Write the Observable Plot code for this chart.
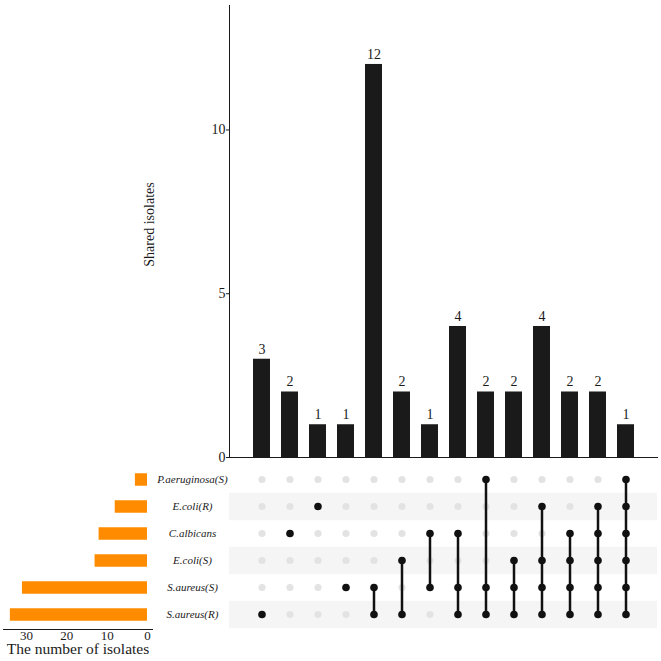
<!DOCTYPE html>
<html>
<head>
<meta charset="utf-8">
<script src="https://cdn.jsdelivr.net/npm/d3@7"></script>
<script src="https://cdn.jsdelivr.net/npm/@observablehq/plot@0.6"></script>
<style>
  html, body { margin: 0; padding: 0; background: #ffffff; }
  #chart { position: relative; width: 661px; height: 661px; overflow: hidden; }
  #chart svg { position: absolute; left: 0; top: 0; }
  #chart svg text { font-family: 'Liberation Serif', 'Times New Roman', serif !important; }
</style>
</head>
<body>
<div id="chart"></div>
<script>
// ---- data ----
const sets = ["P.aeruginosa(S)", "E.coli(R)", "C.albicans", "E.coli(S)", "S.aureus(S)", "S.aureus(R)"];
const setSizes = [3, 8, 12, 13, 31, 34];
const shadedSets = ["E.coli(R)", "E.coli(S)", "S.aureus(R)"];
const intersectionIds = [1, 2, 3, 4, 5, 6, 7, 8, 9, 10, 11, 12, 13, 14];
const intersectionCounts = [3, 2, 1, 1, 12, 2, 1, 4, 2, 2, 4, 2, 2, 1];
const intersectionMembers = [
  ["S.aureus(R)"],
  ["C.albicans"],
  ["E.coli(R)"],
  ["S.aureus(S)"],
  ["S.aureus(S)", "S.aureus(R)"],
  ["E.coli(S)", "S.aureus(R)"],
  ["C.albicans", "S.aureus(S)"],
  ["C.albicans", "S.aureus(S)", "S.aureus(R)"],
  ["P.aeruginosa(S)", "S.aureus(S)", "S.aureus(R)"],
  ["E.coli(S)", "S.aureus(S)", "S.aureus(R)"],
  ["E.coli(R)", "E.coli(S)", "S.aureus(S)", "S.aureus(R)"],
  ["C.albicans", "E.coli(S)", "S.aureus(S)", "S.aureus(R)"],
  ["E.coli(R)", "C.albicans", "E.coli(S)", "S.aureus(S)", "S.aureus(R)"],
  ["P.aeruginosa(S)", "E.coli(R)", "C.albicans", "E.coli(S)", "S.aureus(S)", "S.aureus(R)"]
];
const countTicks = [0, 5, 10];
const sizeTicks = [0, 10, 20, 30];
const countLabel = "Shared isolates";
const sizeLabel = "The number of isolates";

// ---- derived tables ----
const columns = intersectionIds.map((id, i) => ({id, count: intersectionCounts[i]}));
const allCells = intersectionIds.flatMap(id => sets.map(s => ({id, set: s})));
const memberCells = intersectionIds.flatMap((id, i) => intersectionMembers[i].map(s => ({id, set: s})));
const links = intersectionIds.map((id, i) => {
  const idx = intersectionMembers[i].map(s => sets.indexOf(s));
  return {id, top: sets[d3.min(idx)], bottom: sets[d3.max(idx)]};
}).filter((d, i) => intersectionMembers[i].length > 1);
const setRows = sets.map((s, i) => ({set: s, size: setSizes[i]}));

const FONT = "Liberation Serif";
const INK = "#1a1a1a";
const W = 661, H = 661;
const xBand = {type: "band", domain: intersectionIds, paddingInner: 0.4, paddingOuter: 0.7, axis: null};
const yRows = {type: "point", domain: sets, range: [477.7, 615.7], padding: 0, axis: null};
const baseStyle = {background: "transparent", fontFamily: FONT, fontSize: "14px", color: INK, overflow: "visible"};

// ---- top: intersection sizes ----
const topPlot = Plot.plot({
  width: W, height: H,
  marginLeft: 229, marginRight: 4, marginTop: 5, marginBottom: 204,
  style: baseStyle,
  x: xBand,
  y: {domain: [0, 13.8], axis: null},
  marks: [
    Plot.barY(columns, {x: "id", y: "count", fill: "#1a1a1a"}),
    Plot.frame({anchor: "left", stroke: INK}),
    Plot.frame({anchor: "bottom", stroke: INK}),
    Plot.axisY(countTicks, {anchor: "left", tickSize: 3, tickPadding: 1, fontSize: 14, fontFamily: FONT, label: null, stroke: INK}),
    Plot.text(columns, {x: "id", y: "count", text: d => String(d.count), dy: -10, fontSize: 14, fontFamily: FONT, fill: INK}),
    Plot.text([countLabel], {frameAnchor: "left", textAnchor: "middle", dx: -80, dy: -7, rotate: -90, fontSize: 14, fontFamily: FONT, fill: INK})
  ]
});

// ---- matrix ----
const matrixPlot = Plot.plot({
  width: W, height: H,
  marginLeft: 229, marginRight: 4, marginTop: 464, marginBottom: 31,
  style: baseStyle,
  x: xBand,
  y: yRows,
  marks: [
    Plot.ruleY(shadedSets, {y: d => d, stroke: "#f5f5f5", strokeWidth: 27.6}),
    Plot.dot(allCells, {x: "id", y: "set", r: 3.6, fill: "#e3e3e3"}),
    Plot.ruleX(links, {x: "id", y1: "top", y2: "bottom", stroke: "#111", strokeWidth: 2.5}),
    Plot.dot(memberCells, {x: "id", y: "set", r: 3.8, fill: "#111"})
  ]
});

// ---- left: set sizes ----
const leftPlot = Plot.plot({
  width: W, height: H,
  marginLeft: 3, marginRight: 509, marginTop: 464, marginBottom: 32,
  style: baseStyle,
  x: {domain: [35.7, -1.24], axis: null},
  y: yRows,
  marks: [
    Plot.ruleY(setRows, {y: "set", x1: 0, x2: "size", stroke: "#ff8c00", strokeWidth: 12.5}),
    Plot.frame({anchor: "bottom", stroke: INK}),
    Plot.axisX(sizeTicks, {anchor: "bottom", tickSize: 1, tickPadding: 0, fontSize: 13, fontFamily: FONT, label: null, stroke: INK}),
    Plot.text(sets, {y: d => d, frameAnchor: "right", dx: 40, textAnchor: "middle", fontStyle: "italic", fontSize: 11, fontFamily: FONT, fill: INK}),
    Plot.text([sizeLabel], {frameAnchor: "bottom", dy: 24.5, fontSize: 15.5, fontFamily: FONT, fill: INK})
  ]
});

const chart = document.getElementById("chart");
chart.appendChild(leftPlot);
chart.appendChild(matrixPlot);
chart.appendChild(topPlot);
</script>
</body>
</html>
